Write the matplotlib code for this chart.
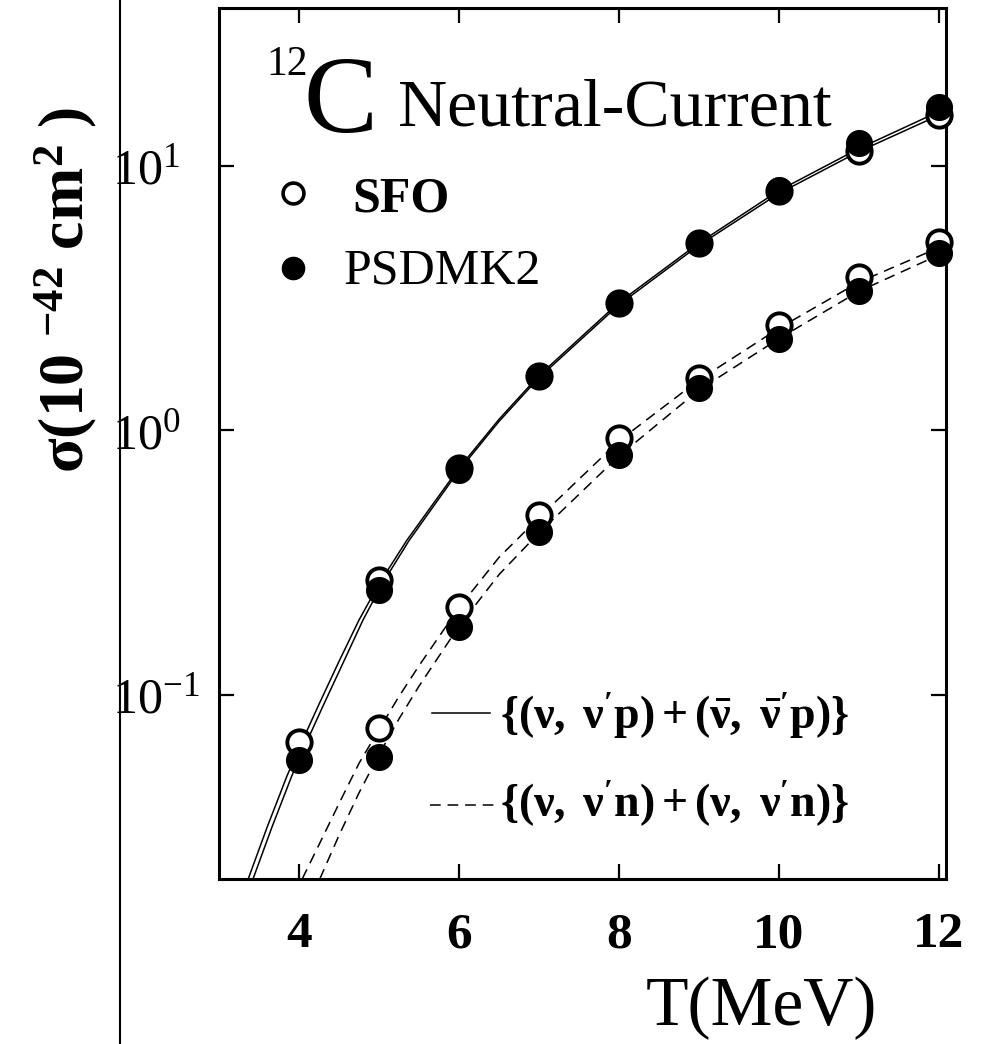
import numpy as np
import matplotlib
matplotlib.use("Agg")
import matplotlib.pyplot as plt
from matplotlib.ticker import FixedLocator, FuncFormatter, NullLocator
from matplotlib.lines import Line2D

plt.rcParams['font.family'] = ['Liberation Serif', 'DejaVu Serif']
plt.rcParams['mathtext.fontset'] = 'custom'
plt.rcParams['mathtext.rm'] = 'Liberation Serif'
plt.rcParams['mathtext.it'] = 'Liberation Serif:italic'
plt.rcParams['mathtext.bf'] = 'Liberation Serif:bold'

# ── data ────────────────────────────────────────────────────────────
# points: proton knock-out (upper) and neutron knock-out (lower)
T_p = [4, 5, 6, 7, 8, 9, 10, 11, 12]
sfo_p = [0.0665, 0.272, 0.72, 1.61, 3.04, 5.12, 8.05, 11.4, 15.6]
psd_p = [0.0569, 0.249, 0.71, 1.60, 3.02, 5.10, 8.10, 12.2, 16.7]

T_n = [5, 6, 7, 8, 9, 10, 11, 12]
sfo_n = [0.075, 0.215, 0.477, 0.933, 1.58, 2.49, 3.78, 5.15]
psd_n = [0.0583, 0.181, 0.412, 0.805, 1.44, 2.22, 3.37, 4.66]

# curves (solid = proton, dashed = neutron), two models each
Tc_p1 = [3.36, 3.60, 3.85, 4.0, 4.25, 4.5, 4.75, 5.0, 5.35, 6.0, 6.5, 7.0, 8.0, 9.0, 10.0, 11.0, 12.0]
cp1 = [0.0200, 0.0316, 0.0495, 0.063, 0.0923, 0.134, 0.192, 0.263, 0.385, 0.72, 1.10, 1.61,
       3.04, 5.10, 8.05, 11.6, 16.0]
Tc_p2 = [3.42, 3.66, 3.91, 4.06, 4.31, 4.56, 4.80, 5.04, 5.38, 6.0, 6.5, 7.0, 8.0, 9.0, 10.0, 11.0, 12.0]
cp2 = [0.0200, 0.0316, 0.0495, 0.063, 0.0923, 0.134, 0.192, 0.263, 0.385, 0.705, 1.08, 1.58,
       2.98, 5.00, 7.85, 11.3, 15.5]

Tc_n1 = [4.04, 4.25, 4.5, 4.75, 5.0, 5.25, 5.5, 6.0, 6.5, 7.0, 8.0, 9.0, 10.0, 11.0, 12.0]
cn1 = [0.0202, 0.0272, 0.0389, 0.0552, 0.0741, 0.0988, 0.129, 0.214, 0.331, 0.468,
       0.912, 1.55, 2.43, 3.63, 4.90]
Tc_n2 = [4.26, 4.5, 4.75, 5.0, 5.25, 5.5, 6.0, 6.5, 7.0, 8.0, 9.0, 10.0, 11.0, 12.0]
cn2 = [0.0202, 0.0295, 0.0427, 0.0596, 0.0813, 0.108, 0.182, 0.285, 0.41, 0.80,
       1.42, 2.22, 3.35, 4.60]

xticks = [4, 6, 8, 10, 12]
yticks = [0.1, 1, 10]

W, H = 981, 1044


def fx(px):
    return px / W


def fy(py):
    return 1 - py / H


fig = plt.figure(figsize=(W / 100, H / 100), dpi=100)
ax = fig.add_axes([fx(219), fy(879), (946 - 219) / W, (879 - 8) / H])
ax.set_yscale('log')
ax.set_xlim(3.0, 12.09)
ax.set_ylim(0.0202, 39.4)

# curves
ax.plot(Tc_p1, cp1, color='k', lw=1.1)
ax.plot(Tc_p2, cp2, color='k', lw=1.1)
dash = (0, (7, 4.5))
ax.plot(Tc_n1, cn1, color='k', lw=1.1, linestyle=dash)
ax.plot(Tc_n2, cn2, color='k', lw=1.1, linestyle=dash)

# points: open = SFO, filled = PSDMK2 (filled on top)
ms = 17.5
for T, v in [(T_p, sfo_p), (T_n, sfo_n)]:
    ax.plot(T, v, 'o', ms=ms, mfc='white', mec='k', mew=2.8, ls='none',
            zorder=4, clip_on=False)
for T, v in [(T_p, psd_p), (T_n, psd_n)]:
    ax.plot(T, v, 'o', ms=ms + 1, mfc='k', mec='k', ls='none',
            zorder=5, clip_on=False)

# axes styling
for s in ax.spines.values():
    s.set_linewidth(2.2)
ax.xaxis.set_major_locator(FixedLocator(xticks))
ax.yaxis.set_major_locator(FixedLocator(yticks))
ax.yaxis.set_minor_locator(NullLocator())
ax.xaxis.set_minor_locator(NullLocator())
ax.yaxis.set_major_formatter(FuncFormatter(
    lambda v, p: r'$\mathrm{10^{%d}}$' % int(round(np.log10(v)))))
ax.xaxis.set_major_formatter(FuncFormatter(lambda v, p: '%d' % v))
ax.tick_params(direction='in', length=11, width=1.6, top=True, right=True)
ax.tick_params(axis='x', labelsize=37, pad=24)
ax.tick_params(axis='y', labelsize=36, pad=77)
for lbl in ax.get_xticklabels():
    lbl.set_fontweight('bold')
for lbl in ax.get_yticklabels():
    lbl.set_horizontalalignment('left')

# title "12C Neutral-Current"
fig.text(fx(266), fy(75), '12', fontsize=30, ha='left', va='baseline')
fig.text(fx(304), fy(132), 'C', fontsize=80, ha='left', va='baseline')
fig.text(fx(398), fy(125), 'Neutral-Current', fontsize=49, ha='left', va='baseline')

# marker key
ax.plot([fx(293)], [fy(193)], 'o', ms=15, mfc='white', mec='k', mew=2.6,
        transform=fig.transFigure, clip_on=False)
ax.plot([fx(293)], [fy(268)], 'o', ms=16, mfc='k', mec='k',
        transform=fig.transFigure, clip_on=False)
fig.text(fx(352), fy(212), 'SFO', fontsize=36, fontweight='bold', ha='left', va='baseline')
fig.text(fx(344), fy(283), 'PSDMK2', fontsize=36, ha='left', va='baseline')

# line key
fig.add_artist(Line2D([fx(432), fx(490)], [fy(713), fy(713)], color='k', lw=1.1))
fig.add_artist(Line2D([fx(430), fx(497)], [fy(805), fy(805)], color='k', lw=1.1,
                      linestyle=dash))
fig.text(fx(500), fy(716), r"$\mathbf{\{(\nu,\ \nu'p) + (\bar{\nu},\ \bar{\nu}'p)\}}$",
         fontsize=33, ha='left', va='center')
fig.text(fx(500), fy(804), r"$\mathbf{\{(\nu,\ \nu'n) + (\nu,\ \nu'n)\}}$",
         fontsize=33, ha='left', va='center')

# axis labels
fig.text(fx(66), fy(290), 'σ(10 $^{\\mathbf{-42}}$ cm$^{\\mathbf{2}}$ )', fontsize=46,
         fontweight='bold', rotation=90, ha='center', va='center')
fig.text(fx(761), fy(1025), 'T(MeV)', fontsize=50, ha='center', va='baseline')

# vertical rule left over from the neighbouring panel
fig.add_artist(Line2D([fx(120), fx(120)], [0, 1], color='k', lw=1.5))

fig.savefig('out.png', dpi=100)
